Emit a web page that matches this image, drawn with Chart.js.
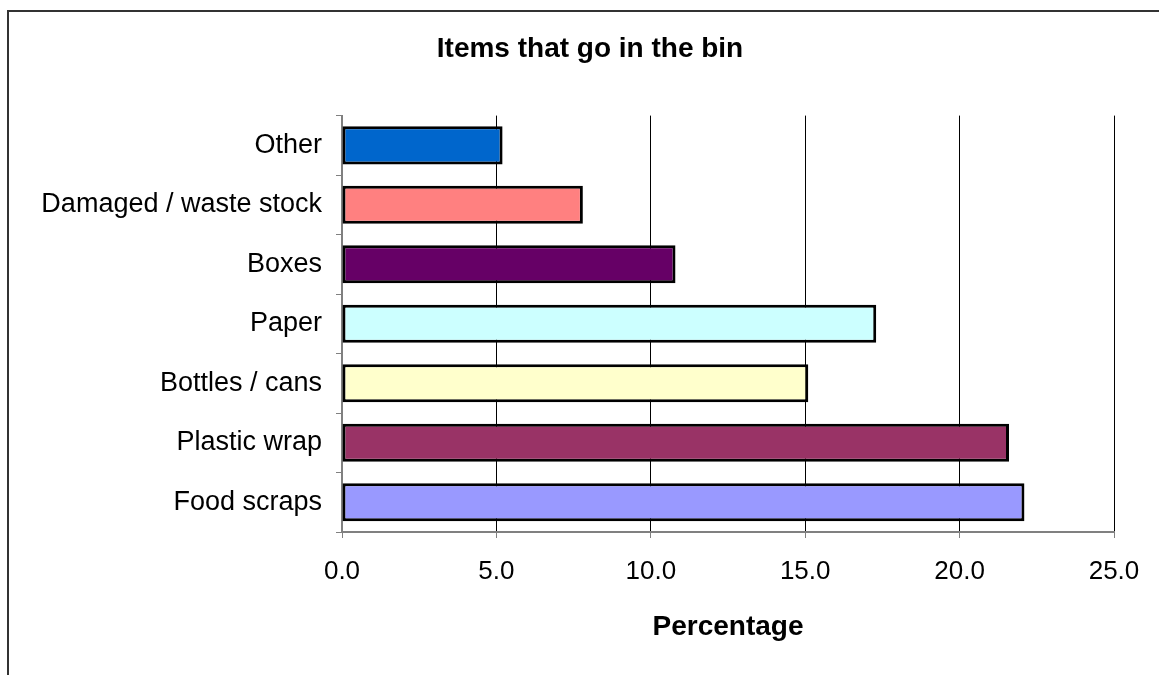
<!DOCTYPE html>
<html>
<head>
<meta charset="utf-8">
<script src="https://cdn.jsdelivr.net/npm/chart.js@4"></script>
<style>
  body { margin: 0; background: #fff; }
  canvas { display: block; }
</style>
</head>
<body>
<canvas id="chart_bin" width="1159" height="675"></canvas>
<script>
// data, top to bottom
const categories = ['Other', 'Damaged / waste stock', 'Boxes', 'Paper', 'Bottles / cans', 'Plastic wrap', 'Food scraps'];
const percentages = [5.2, 7.8, 10.8, 17.3, 15.1, 21.6, 22.1];
const barColors = ['#0066CC', '#FF8080', '#660066', '#CCFFFF', '#FFFFCC', '#993366', '#9999FF'];
const xTicks = [0, 5, 10, 15, 20, 25];

const fontName = '"Liberation Sans", Arial, sans-serif';

// outer frame, like the excel chart border
const framePlugin = {
    id: 'frame',
    beforeDraw: (chart) => {
        const ctx = chart.ctx;
        ctx.save();
        ctx.fillStyle = '#fff';
        ctx.fillRect(0, 0, chart.width, chart.height);
        ctx.strokeStyle = '#333';
        ctx.lineWidth = 2;
        ctx.beginPath();
        ctx.moveTo(8, chart.height);
        ctx.lineTo(8, 11);
        ctx.lineTo(chart.width, 11);
        ctx.stroke();
        ctx.restore();
    }
}

const data = {
    labels: categories,
    datasets: [{
        label: 'Percentage',
        data: percentages,
        backgroundColor: barColors,
        borderColor: '#000',
        borderWidth: 3,
        borderSkipped: false,
        barPercentage: 0.64,
        categoryPercentage: 1
    }]
};

const config = {
    type: 'bar',
    data: data,
    plugins: [framePlugin],
    options: {
        indexAxis: 'y',
        responsive: false,
        animation: false,
        layout: {
            padding: {left: 21, right: 0, top: 0, bottom: 0}
        },
        plugins: {
            legend: {display: false},
            tooltip: {enabled: false},
            title: {
                display: true,
                text: 'Items that go in the bin',
                color: '#000',
                font: {family: fontName, size: 28, weight: 'bold'},
                padding: {top: 32, bottom: 50}
            }
        },
        scales: {
            x: {
                min: 0,
                max: 25,
                afterBuildTicks: (scale) => {
                    scale.ticks = xTicks.map(v => ({value: v}));
                },
                afterFit: (scale) => { scale.height = 143; },
                ticks: {
                    color: '#000',
                    padding: 18,
                    font: {family: fontName, size: 26},
                    callback: (v) => Number(v).toFixed(1)
                },
                grid: {
                    color: '#000',
                    lineWidth: 1,
                    tickColor: '#808080',
                    tickLength: 6
                },
                border: {color: '#808080', width: 2},
                title: {
                    display: true,
                    text: 'Percentage',
                    color: '#000',
                    font: {family: fontName, size: 28, weight: 'bold'},
                    padding: {top: 0, bottom: 31}
                }
            },
            y: {
                afterFit: (scale) => { scale.width = 321; },
                ticks: {
                    color: '#000',
                    padding: 14,
                    font: {family: fontName, size: 27}
                },
                grid: {
                    drawOnChartArea: false,
                    tickColor: '#808080',
                    tickLength: 6,
                    offset: true
                },
                border: {color: '#808080', width: 2}
            },
            // empty right margin so the title sits where it does in the picture
            yRight: {
                type: 'category',
                position: 'right',
                afterFit: (scale) => { scale.width = 45; },
                ticks: {display: false},
                grid: {display: false},
                border: {display: false}
            }
        }
    }
};

const binChart = new Chart(document.getElementById('chart_bin'), config);
</script>
</body>
</html>
